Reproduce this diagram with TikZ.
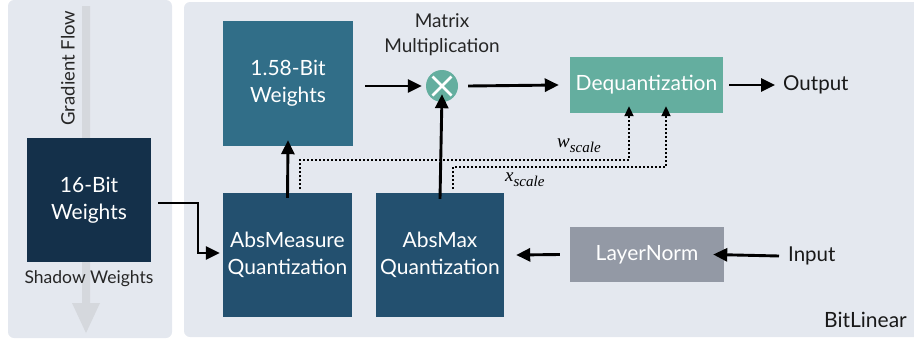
\documentclass[tikz,border=0pt]{standalone}
\usepackage{fontspec}
\setmainfont{Lato}
\newfontfamily\mathserif{Liberation Serif}
\usetikzlibrary{arrows.meta,calc}
\definecolor{panel}{HTML}{E4E8EF}
\definecolor{gradc}{HTML}{D5D8DD}
\definecolor{sixteen}{HTML}{14304A}
\definecolor{onefive}{HTML}{316E88}
\definecolor{quant}{HTML}{23506F}
\definecolor{teal}{HTML}{64AE9F}
\definecolor{lngray}{HTML}{9399A5}
\newcommand{\scalelbl}[1]{{\mathserif\itshape\fontsize{19}{22}\selectfont #1\raisebox{-5pt}{\fontsize{15}{18}\selectfont scale}}}
\tikzset{
  box/.style={draw=none, inner sep=0pt, align=center, text=white, font=\fontsize{21}{27}\selectfont},
  lbl/.style={inner sep=0pt, align=center, font=\fontsize{20.5}{25}\selectfont},
  tip/.style={-{Triangle[length=14pt,width=13pt]}},
  arr/.style={line width=2.9pt, tip},
  dotarr/.style={line width=2pt, dash pattern=on 2pt off 2pt, -{Triangle[length=10pt,width=9pt]}},
}
\begin{document}
\begin{tikzpicture}[x=1pt,y=-1pt]
\useasboundingbox (0,0) rectangle (914,341);
% panels
\fill[panel, rounded corners=6pt] (8,0) rectangle (172,338);
\fill[panel, rounded corners=6pt] (184,2) rectangle (920,337);
% gradient flow arrow
\fill[gradc] (82,6) -- (90,6) -- (90,303) -- (100,303) -- (86,333) -- (72,303) -- (82,303) -- cycle;
\node[lbl, rotate=90, font=\fontsize{18.5}{22}\selectfont, text=black!85] (gf) at (68,68) {Gradient Flow};
% nodes
\node[box, fill=sixteen, minimum width=124pt, minimum height=124pt] (w16) at (89,200) {16-Bit\\Weights};
\node[lbl, font=\fontsize{17.5}{20}\selectfont, text=black!85] (shadow) at (89,279) {Shadow Weights};
\node[box, fill=onefive, minimum width=130pt, minimum height=125pt] (w158) at (288,83.5) {1.58-Bit\\Weights};
\node[lbl, font=\fontsize{19}{25}\selectfont, text=black!85] (mm) at (442,35) {Matrix\\Multiplication};
\node[circle, fill=teal, minimum size=32pt, inner sep=0pt] (mul) at (442,86) {};
\draw[white, line width=2.8pt] ($(mul)+(-9.5,-9.5)$) -- ($(mul)+(9.5,9.5)$) ($(mul)+(-9.5,9.5)$) -- ($(mul)+(9.5,-9.5)$);
\node[box, fill=teal, minimum width=153pt, minimum height=56pt] (deq) at (646.5,85) {Dequantization};
\node[lbl, anchor=west, text=black!90] (out) at (783,85) {Output};
\node[box, fill=quant, minimum width=129pt, minimum height=124pt] (amq) at (287.5,255) {AbsMeasure\\Quantization};
\node[box, fill=quant, minimum width=128pt, minimum height=124pt] (axq) at (440,255) {AbsMax\\Quantization};
\node[box, fill=lngray, minimum width=154pt, minimum height=55pt] (ln) at (647,254.5) {LayerNorm};
\node[lbl, anchor=west, text=black!90] (inp) at (788,256) {Input};
\node[lbl, anchor=east, text=black!90, font=\fontsize{21}{25}\selectfont] (bl) at (907,320) {BitLinear};
% coordinates
\coordinate (a1) at (158,203);
\coordinate (a2) at (198,203);
\coordinate (a3) at (198,253);
% connectors
\draw[arr] (a1) -- (a2) -- (a3) -- ([xshift=-3pt]amq.west |- a3);
\draw[arr] ([yshift=-5pt]amq.north) -- ([yshift=6pt]w158.south);
\draw[arr] ([yshift=-6pt]axq.north) -- ([yshift=8pt]mul.south);
\draw[arr] ([xshift=12pt]w158.east |- mul) -- ([xshift=-4pt]mul.west);
\draw[arr] ([xshift=10pt]mul.east) -- ([xshift=-11pt]deq.west);
\draw[arr] ([xshift=6pt]deq.east) -- ([xshift=-8pt]out.west);
\draw[arr] ([xshift=-9pt]inp.west) -- ([xshift=-11pt]ln.east);
\draw[arr] ([xshift=-10pt]ln.west) -- ([xshift=12pt]axq.east);
% dotted scale lines
\coordinate (w0) at (300,189);
\coordinate (w1) at (300,160);
\coordinate (w2) at (629,160);
\draw[dotarr] (w0) -- (w1) -- (w2) -- ([yshift=7pt]deq.south -| w2);
\coordinate (x0) at (453,189);
\coordinate (x1) at (453,167);
\coordinate (x2) at (666,167);
\draw[dotarr] (x0) -- (x1) -- (x2) -- ([yshift=7pt]deq.south -| x2);
\node[inner sep=0pt, anchor=base west] (ws) at (557,147) {\scalelbl{w}};
\node[inner sep=0pt, anchor=base west] (xs) at (505,181) {\scalelbl{x}};
\end{tikzpicture}
\end{document}
